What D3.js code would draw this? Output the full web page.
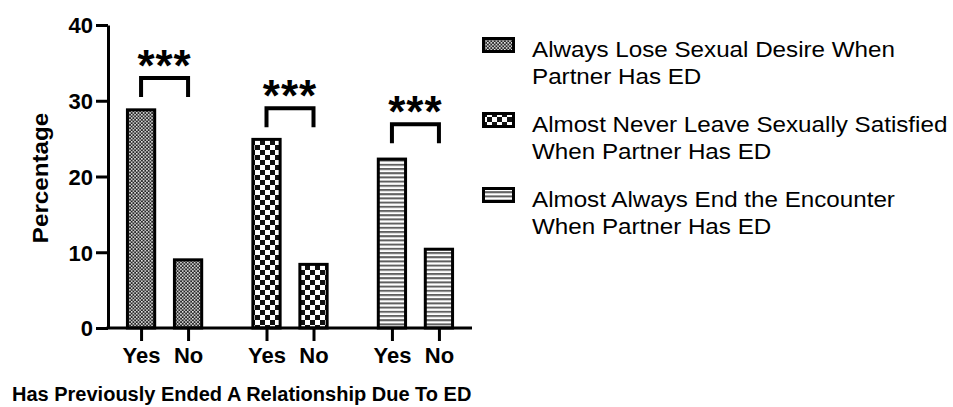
<!DOCTYPE html>
<html>
    <head>
        <meta charset="utf-8" />
        <script src="https://d3js.org/d3.v7.min.js"></script>
        <style>
            body {
                margin: 0;
                background-color: white;
            }
            svg {
                display: block;
                font-family: 'Liberation Sans', Arial, sans-serif;
            }
        </style>
    </head>
    <body>
        <svg></svg>
        <script>
            // data
            const groups = ['desire', 'satisfied', 'encounter']
            const answers = ['Yes', 'No']
            const yesValues = [28.8, 24.9, 22.3]
            const noValues = [9.0, 8.4, 10.4]
            const bracketLevels = [33, 29, 26.9]
            const yTicks = [0, 10, 20, 30, 40]
            const legendLabels = [
                ['Always Lose Sexual Desire When', 'Partner Has ED'],
                ['Almost Never Leave Sexually Satisfied', 'When Partner Has ED'],
                ['Almost Always End the Encounter', 'When Partner Has ED'],
            ]
            const yTitle = 'Percentage'
            const xTitle = 'Has Previously Ended A Relationship Due To ED'

            const width = 953
            const height = 407
            const svg = d3
                .select('svg')
                .attr('width', width)
                .attr('height', height)
                .attr('viewBox', [0, 0, width, height])

            // patterns (one per group)
            const defs = svg.append('defs')
            const p0 = defs
                .append('pattern')
                .attr('id', 'pat0')
                .attr('patternUnits', 'userSpaceOnUse')
                .attr('width', 3.4)
                .attr('height', 3.4)
            p0.append('rect').attr('width', 3.4).attr('height', 3.4).attr('fill', '#262626')
            p0.append('rect').attr('width', 1.5).attr('height', 1.5).attr('fill', '#f4f4f4')
            p0.append('rect').attr('x', 1.7).attr('y', 1.7).attr('width', 1.5).attr('height', 1.5).attr('fill', '#f4f4f4')

            const p1 = defs
                .append('pattern')
                .attr('id', 'pat1')
                .attr('patternUnits', 'userSpaceOnUse')
                .attr('width', 10)
                .attr('height', 10)
            p1.append('rect').attr('width', 10).attr('height', 10).attr('fill', 'white')
            p1.append('rect').attr('width', 5).attr('height', 5).attr('fill', '#111')
            p1.append('rect').attr('x', 5).attr('y', 5).attr('width', 5).attr('height', 5).attr('fill', '#111')

            const p2 = defs
                .append('pattern')
                .attr('id', 'pat2')
                .attr('patternUnits', 'userSpaceOnUse')
                .attr('width', 4)
                .attr('height', 4.2)
            p2.append('rect').attr('width', 4).attr('height', 4.2).attr('fill', 'white')
            p2.append('rect').attr('y', 0).attr('width', 4).attr('height', 2).attr('fill', '#606060')

            // scales
            const y = d3.scaleLinear().domain([0, 40]).range([328, 25])
            const xLeft = 108
            const xRight = 472
            const xGroup = d3.scalePoint().domain(groups).range([xLeft, xRight]).padding(0.451)
            const xInner = d3
                .scaleBand()
                .domain(answers)
                .range([-47, 47])
                .paddingInner(0.42)
                .paddingOuter(0.21)

            const bars = []
            groups.forEach((g, i) => {
                bars.push({ group: g, gi: i, answer: 'Yes', value: yesValues[i] })
                bars.push({ group: g, gi: i, answer: 'No', value: noValues[i] })
            })

            svg.append('g')
                .selectAll('rect')
                .data(bars)
                .join('rect')
                .attr('x', (d) => xGroup(d.group) + xInner(d.answer))
                .attr('y', (d) => y(d.value))
                .attr('width', xInner.bandwidth())
                .attr('height', (d) => y(0) - y(d.value))
                .attr('fill', (d) => `url(#pat${d.gi})`)
                .attr('stroke', 'black')
                .attr('stroke-width', 3)

            // y axis
            const yAxis = svg
                .append('g')
                .attr('transform', `translate(${xLeft},0)`)
                .call(d3.axisLeft(y).tickValues(yTicks).tickSize(12).tickSizeOuter(0).tickPadding(3))
            yAxis.select('.domain').attr('stroke-width', 3)
            yAxis.selectAll('.tick line').attr('stroke-width', 3)
            yAxis.selectAll('.tick text')
                .attr('font-size', 22)
                .attr('font-weight', 'bold')
                .attr('fill', 'black')
                .attr('dy', '0.36em')

            // x axis
            const tickKeys = bars.map((d) => d.group + '|' + d.answer)
            const xTicks = d3
                .scaleOrdinal()
                .domain(tickKeys)
                .range(bars.map((d) => xGroup(d.group) + xInner(d.answer) + xInner.bandwidth() / 2))
            const xAxis = svg
                .append('g')
                .attr('transform', `translate(0,${y(0)})`)
                .call(
                    d3.axisBottom(xTicks)
                        .tickSize(13)
                        .tickFormat((k) => k.split('|')[1])
                )
            xAxis.select('.domain').remove()
            xAxis.selectAll('.tick line').attr('stroke-width', 3)
            xAxis.selectAll('.tick text')
                .attr('font-size', 22)
                .attr('font-weight', 'bold')
                .attr('fill', 'black')
                .attr('y', 35)
                .attr('dy', 0)
            svg.append('line')
                .attr('x1', xLeft - 1.5)
                .attr('x2', xRight)
                .attr('y1', y(0))
                .attr('y2', y(0))
                .attr('stroke', 'black')
                .attr('stroke-width', 3)

            // significance brackets
            const xYes = (g) => xGroup(g) + xInner('Yes') + xInner.bandwidth() / 2
            const xNo = (g) => xGroup(g) + xInner('No') + xInner.bandwidth() / 2
            svg.append('g')
                .selectAll('path')
                .data(groups)
                .join('path')
                .attr('d', (g, i) => {
                    const top = y(bracketLevels[i])
                    const bot = y(bracketLevels[i] - 2.5)
                    return `M${xYes(g)},${bot}V${top}H${xNo(g)}V${bot}`
                })
                .attr('fill', 'none')
                .attr('stroke', 'black')
                .attr('stroke-width', 4)
            svg.append('g')
                .selectAll('text')
                .data(groups)
                .join('text')
                .attr('x', (g) => (xYes(g) + xNo(g)) / 2)
                .attr('y', (g, i) => y(bracketLevels[i]) + 3)
                .attr('text-anchor', 'middle')
                .attr('font-size', 44)
                .attr('font-weight', 'bold')
                .attr('letter-spacing', 1)
                .text('***')

            // axis titles
            svg.append('text')
                .attr('transform', 'translate(48,178) rotate(-90) scale(1.1,1)')
                .attr('text-anchor', 'middle')
                .attr('font-size', 22)
                .attr('font-weight', 'bold')
                .text(yTitle)
            svg.append('text')
                .attr('x', 12)
                .attr('y', 401)
                .attr('font-size', 20)
                .attr('font-weight', 'bold')
                .text(xTitle)

            // legend
            const legend = svg
                .append('g')
                .selectAll('g')
                .data(legendLabels)
                .join('g')
                .attr('transform', (d, i) => `translate(482,${37 + i * 75})`)
            legend.append('rect')
                .attr('x', 1.5)
                .attr('y', 1.5)
                .attr('width', 30)
                .attr('height', 13)
                .attr('fill', (d, i) => `url(#pat${i})`)
                .attr('stroke', 'black')
                .attr('stroke-width', 3)
            legend.selectAll('text')
                .data((d) => d)
                .join('text')
                .attr('transform', (d, j) => `translate(50,${20 + j * 27}) scale(1.1,1)`)
                .attr('font-size', 22)
                .text((d) => d)
        </script>
    </body>
</html>
